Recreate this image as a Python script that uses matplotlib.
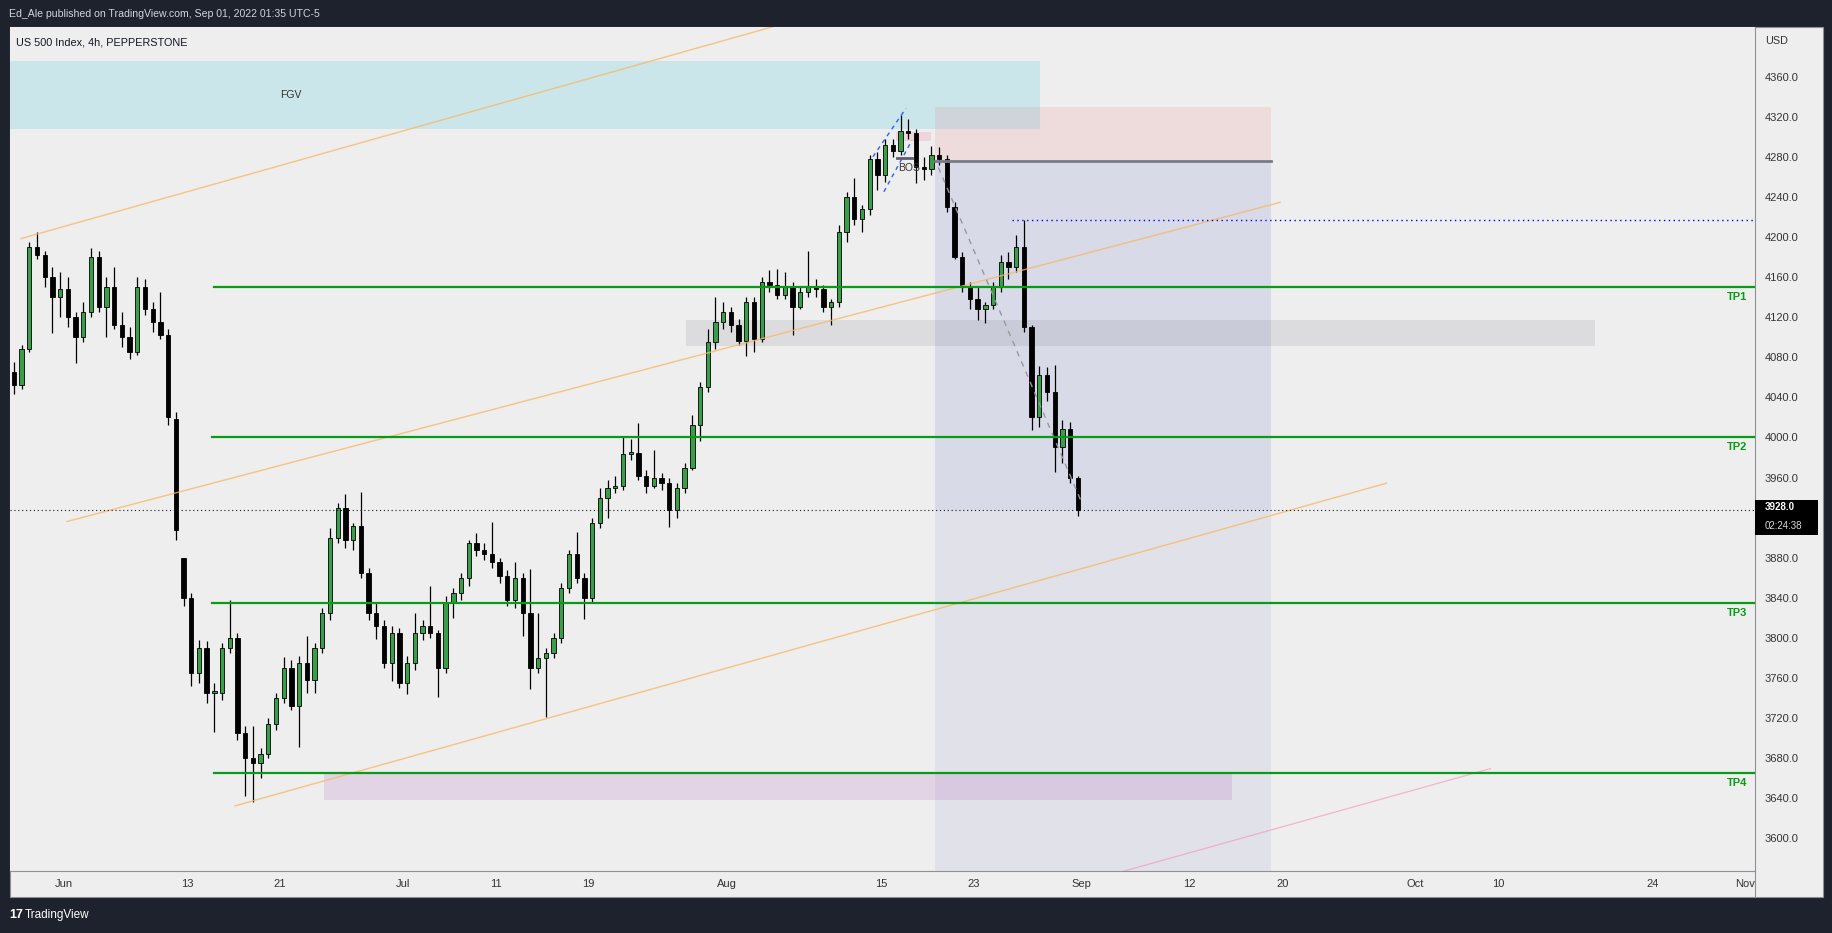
import numpy as np
import matplotlib.pyplot as plt
from matplotlib.patches import Rectangle
from matplotlib.transforms import blended_transform_factory

plt.rcParams['font.family'] = ['Liberation Sans', 'DejaVu Sans']

# ─── 12h candles (x = trading-day index, 0 = Jun 1) ───
first_x, bar_step = -3.25, 0.5
opens = [4065, 4052, 4088, 4190, 4182, 4160, 4140, 4148, 4120, 4100,
         4125, 4180, 4130, 4150, 4112, 4100, 4085, 4150, 4128, 4115,
         4102, 4018, 3880, 3840, 3765, 3790, 3745, 3745, 3790, 3800,
         3705, 3680, 3675, 3684, 3714, 3740, 3770, 3732, 3775, 3758,
         3790, 3825, 3900, 3930, 3898, 3912, 3865, 3825, 3812, 3775,
         3805, 3755, 3775, 3805, 3812, 3805, 3770, 3835, 3845, 3860,
         3895, 3888, 3884, 3876, 3862, 3838, 3860, 3825, 3770, 3780,
         3785, 3800, 3850, 3884, 3860, 3840, 3915, 3940, 3950, 3952,
         3984, 3985, 3962, 3952, 3960, 3955, 3928, 3950, 3970, 4012,
         4050, 4095, 4115, 4125, 4112, 4096, 4135, 4098, 4155, 4152,
         4142, 4150, 4130, 4145, 4150, 4148, 4130, 4135, 4205, 4240,
         4218, 4228, 4278, 4262, 4292, 4286, 4306, 4304, 4270, 4268,
         4282, 4278, 4230, 4180, 4150, 4138, 4128, 4132, 4150, 4175,
         4170, 4190, 4110, 4020, 4062, 4045, 3990, 4008, 3960]
highs = [4075, 4092, 4195, 4205, 4186, 4170, 4165, 4160, 4125, 4135,
         4189, 4186, 4160, 4170, 4125, 4110, 4160, 4158, 4135, 4145,
         4108, 4025, 3880, 3845, 3798, 3797, 3755, 3795, 3838, 3805,
         3712, 3712, 3690, 3720, 3745, 3781, 3778, 3782, 3802, 3795,
         3830, 3910, 3935, 3944, 3915, 3946, 3870, 3835, 3818, 3812,
         3810, 3782, 3825, 3818, 3852, 3808, 3842, 3850, 3865, 3898,
         3905, 3895, 3916, 3880, 3868, 3876, 3865, 3869, 3825, 3790,
         3805, 3855, 3888, 3906, 3865, 3920, 3950, 3958, 3962, 4000,
         3998, 4014, 3968, 3988, 3965, 3960, 3955, 3975, 4022, 4055,
         4108, 4140, 4135, 4130, 4118, 4140, 4140, 4160, 4167, 4168,
         4165, 4155, 4150, 4186, 4158, 4152, 4138, 4212, 4245, 4259,
         4232, 4282, 4285, 4298, 4298, 4322, 4318, 4308, 4280, 4291,
         4290, 4282, 4235, 4185, 4155, 4150, 4135, 4155, 4182, 4185,
         4202, 4217, 4112, 4071, 4070, 4072, 4017, 4015, 3962]
lows = [4043, 4048, 4085, 4178, 4150, 4104, 4120, 4110, 4074, 4095,
        4120, 4125, 4100, 4108, 4090, 4078, 4082, 4122, 4105, 4098,
        4012, 3898, 3832, 3752, 3755, 3735, 3706, 3738, 3785, 3698,
        3642, 3636, 3660, 3680, 3708, 3735, 3728, 3691, 3745, 3745,
        3785, 3818, 3895, 3890, 3888, 3860, 3818, 3799, 3770, 3757,
        3750, 3744, 3768, 3798, 3800, 3741, 3765, 3820, 3838, 3852,
        3882, 3878, 3870, 3855, 3832, 3830, 3802, 3749, 3765, 3721,
        3780, 3795, 3845, 3855, 3819, 3835, 3910, 3920, 3945, 3948,
        3978, 3958, 3945, 3950, 3948, 3911, 3920, 3945, 3968, 3996,
        4045, 4088, 4108, 4105, 4092, 4081, 4085, 4095, 4145, 4138,
        4138, 4102, 4128, 4140, 4140, 4125, 4112, 4130, 4195, 4212,
        4205, 4222, 4247, 4255, 4280, 4282, 4298, 4254, 4257, 4262,
        4272, 4225, 4178, 4145, 4128, 4117, 4114, 4128, 4145, 4158,
        4165, 4105, 4007, 4010, 4036, 3966, 3975, 3955, 3922]
closes = [4052, 4088, 4190, 4182, 4160, 4140, 4148, 4120, 4100, 4125,
          4180, 4130, 4150, 4112, 4100, 4085, 4150, 4128, 4115, 4102,
          4020, 3908, 3840, 3765, 3790, 3745, 3745, 3790, 3800, 3705,
          3680, 3675, 3684, 3714, 3740, 3770, 3732, 3775, 3758, 3790,
          3825, 3900, 3930, 3898, 3912, 3865, 3825, 3812, 3775, 3805,
          3755, 3775, 3805, 3812, 3805, 3770, 3835, 3845, 3860, 3895,
          3888, 3884, 3876, 3862, 3838, 3860, 3825, 3770, 3780, 3785,
          3800, 3850, 3884, 3860, 3840, 3915, 3940, 3950, 3952, 3984,
          3985, 3962, 3952, 3960, 3955, 3928, 3950, 3970, 4012, 4050,
          4095, 4115, 4125, 4112, 4096, 4135, 4098, 4155, 4152, 4142,
          4150, 4130, 4145, 4150, 4148, 4130, 4135, 4205, 4240, 4218,
          4228, 4278, 4262, 4292, 4286, 4306, 4304, 4270, 4268, 4282,
          4278, 4230, 4180, 4150, 4138, 4128, 4132, 4150, 4175, 4170,
          4190, 4110, 4020, 4062, 4045, 3990, 4008, 3960, 3928]
last_price = 3928.0

# ─── axis labels ──────────────────────────────────────────────────
price_ticks = list(range(3600, 4361, 40))
date_pos = [0, 8, 14, 22, 28, 34, 43, 53, 59, 66, 73, 79, 87.6, 93, 103, 109]
date_lbl = ['Jun', '13', '21', 'Jul', '11', '19', 'Aug', '15', '23', 'Sep',
            '12', '20', 'Oct', '10', '24', 'Nov']

# ─── drawings (x in trading days, y in price) ─────────────────────
tp_levels = [4150, 4000, 3835, 3665]
tp_names = ['TP1', 'TP2', 'TP3', 'TP4']
tp_start = [9.73, 9.6, 9.6, 9.73]
fgv_box = (-5, 63.3, 4308, 4376)             # x0, x1, y0, y1
supply_box = (40.34, 99.3, 4091, 4117)
demand_box = (16.86, 75.75, 3638, 3664)
pos_x = (56.5, 78.3)
pos_stop, pos_entry = 4330, 4276.6
bos_box = (53.96, 56.2, 4296.3, 4305.6)
bos_line = (54.0, 54.97, 4279.6)
high_line = (61.5, 4217)
orange_lines = [((-2.79, 4198.8), (46.2, 4411.6)),
                ((0.19, 3916.0), (78.86, 4235.0)),
                ((11.09, 3631.8), (85.76, 3954.3))]
pink_line = ((68.6, 3566.0), (92.5, 3669.0))
swing_line = ((56.7, 4270.0), (66.0, 3935.0))
wedge_lines = [((52.46, 4280.6), (54.6, 4329.0)),
               ((53.17, 4245.6), (54.99, 4297.0))]

W, H = 1833, 933
fig = plt.figure(figsize=(W / 100, H / 100), dpi=100, facecolor='#1e222d')

# background panel (pixel coords)
bg = fig.add_axes([0, 0, 1, 1])
bg.set_xlim(0, W)
bg.set_ylim(H, 0)
bg.axis('off')
bg.add_patch(Rectangle((10, 27), 1813, 870, facecolor='#eeeeee',
                       edgecolor='#8e9096', lw=0.8))
bg.plot([1755, 1755], [871, 897], color='#8e9096', lw=0.8)
bg.text(9, 14, 'Ed_Ale published on TradingView.com, Sep 01, 2022 01:35 UTC-5',
        color='#d1d4dc', fontsize=7.6, va='center')
bg.text(1765, 41, 'USD', color='#333333', fontsize=7.8, va='center')
bg.text(9, 915, '17', color='white', fontsize=9, fontweight='bold', va='center')
bg.text(25, 915, 'TradingView', color='white', fontsize=8.5, va='center')

# main chart
ax = fig.add_axes([10 / W, (H - 871) / H, 1745 / W, 844 / H])
ax.set_facecolor('#eeeeee')
ax.set_xlim(-3.502, 109.663)
ax.set_ylim(3566.7, 4410.3)
for side in ['left', 'top']:
    ax.spines[side].set_visible(False)
for side in ['right', 'bottom']:
    ax.spines[side].set_color('#8e9096')
    ax.spines[side].set_linewidth(0.8)

ax.yaxis.tick_right()
ax.set_yticks(price_ticks, [f'{p:.1f}' for p in price_ticks])
ax.tick_params(axis='y', length=0, pad=7, labelsize=8, labelcolor='#333333')
ax.set_xticks(date_pos, date_lbl)
ax.tick_params(axis='x', length=0, pad=6, labelsize=8, labelcolor='#333333')

# zones
def box(x0, x1, y0, y1, color, alpha, z=1):
    ax.add_patch(Rectangle((x0, y0), x1 - x0, y1 - y0, facecolor=color,
                           alpha=alpha, edgecolor='none', zorder=z))

box(*fgv_box, '#00bcd4', 0.15)
box(pos_x[0], pos_x[1], pos_entry, pos_stop, '#f23645', 0.10)
box(pos_x[0], pos_x[1], last_price, pos_entry, '#3f51b5', 0.12)
box(pos_x[0], pos_x[1], 3400, last_price, '#3f51b5', 0.07)
box(*supply_box, '#787b86', 0.15)
box(*demand_box, '#9c27b0', 0.13)
box(*bos_box, '#e91e63', 0.12)

ax.text(14.7, 4342, 'FGV', fontsize=7.5, color='#333333', ha='center',
        va='center')

# candles
xs = first_x + bar_step * np.arange(len(closes))
o = np.array(opens, float)
c = np.array(closes, float)
ax.vlines(xs, lows, highs, color='black', lw=0.9, zorder=3)
up = c >= o
body_lo = np.minimum(o, c)
body_h = np.maximum(np.abs(c - o), 1.5)
ax.bar(xs[up], body_h[up], bottom=body_lo[up], width=0.28, color='#3a9d48',
       edgecolor='black', linewidth=0.6, zorder=4)
ax.bar(xs[~up], body_h[~up], bottom=body_lo[~up], width=0.28, color='black',
       edgecolor='black', linewidth=0.6, zorder=4)

# lines
x_end = 109.663
for (p0, p1) in orange_lines:
    ax.plot([p0[0], p1[0]], [p0[1], p1[1]], color='#f7b866', lw=1.0,
            alpha=0.8, zorder=5)
ax.plot([pink_line[0][0], pink_line[1][0]], [pink_line[0][1], pink_line[1][1]],
        color='#f48fb1', lw=0.9, alpha=0.6, zorder=5)
ax.plot([swing_line[0][0], swing_line[1][0]],
        [swing_line[0][1], swing_line[1][1]], color='#9598a1', lw=1.0,
        ls=(0, (4, 4)), zorder=5)
for (p0, p1) in wedge_lines:
    ax.plot([p0[0], p1[0]], [p0[1], p1[1]], color='#2962ff', lw=1.0,
            ls=(0, (3, 3)), zorder=5)
ax.plot([pos_x[0], pos_x[1]], [pos_entry, pos_entry], color='#787b86', lw=2,
        zorder=5)
ax.plot([bos_line[0], bos_line[1]], [bos_line[2], bos_line[2]],
        color='#5d606b', lw=2, zorder=5)
ax.text(bos_line[0] + 0.1, bos_line[2] - 10, 'BOS', fontsize=7.5,
        color='#333333', va='center', zorder=6)
ax.plot([high_line[0], x_end], [high_line[1], high_line[1]], color='#0000ff',
        lw=1.0, ls=(0, (1, 2.5)), zorder=5)
ax.axhline(last_price, color='#131722', lw=0.8, ls=(0, (1, 2.5)), zorder=5)

for lvl, name, xs0 in zip(tp_levels, tp_names, tp_start):
    ax.plot([xs0, x_end], [lvl, lvl], color='#089c16', lw=1.6, zorder=6)
    ax.text(109.15, lvl - 10, name, color='#089c16', fontsize=8,
            fontweight='bold', ha='right', va='center', zorder=6)

ax.text(-3.1, 4395, 'US 500 Index, 4h, PEPPERSTONE', fontsize=7.8,
        color='#131722', va='center')

# last price tag on the price scale
tr = blended_transform_factory(ax.transAxes, ax.transData)
ax.add_patch(Rectangle((1.0, 3903), 0.0361, 35, transform=tr,
                       facecolor='black', edgecolor='none', clip_on=False,
                       zorder=7))
ax.text(1.0057, 3930.5, f'{last_price:.1f}', transform=tr,
        color='white', fontsize=7, fontweight='bold', va='center',
        clip_on=False, zorder=8)
ax.text(1.0057, 3912, '02:24:38', transform=tr, color='#d9d9d9',
        fontsize=7, va='center', clip_on=False, zorder=8)

fig.savefig('out.png', dpi=100, facecolor=fig.get_facecolor())
